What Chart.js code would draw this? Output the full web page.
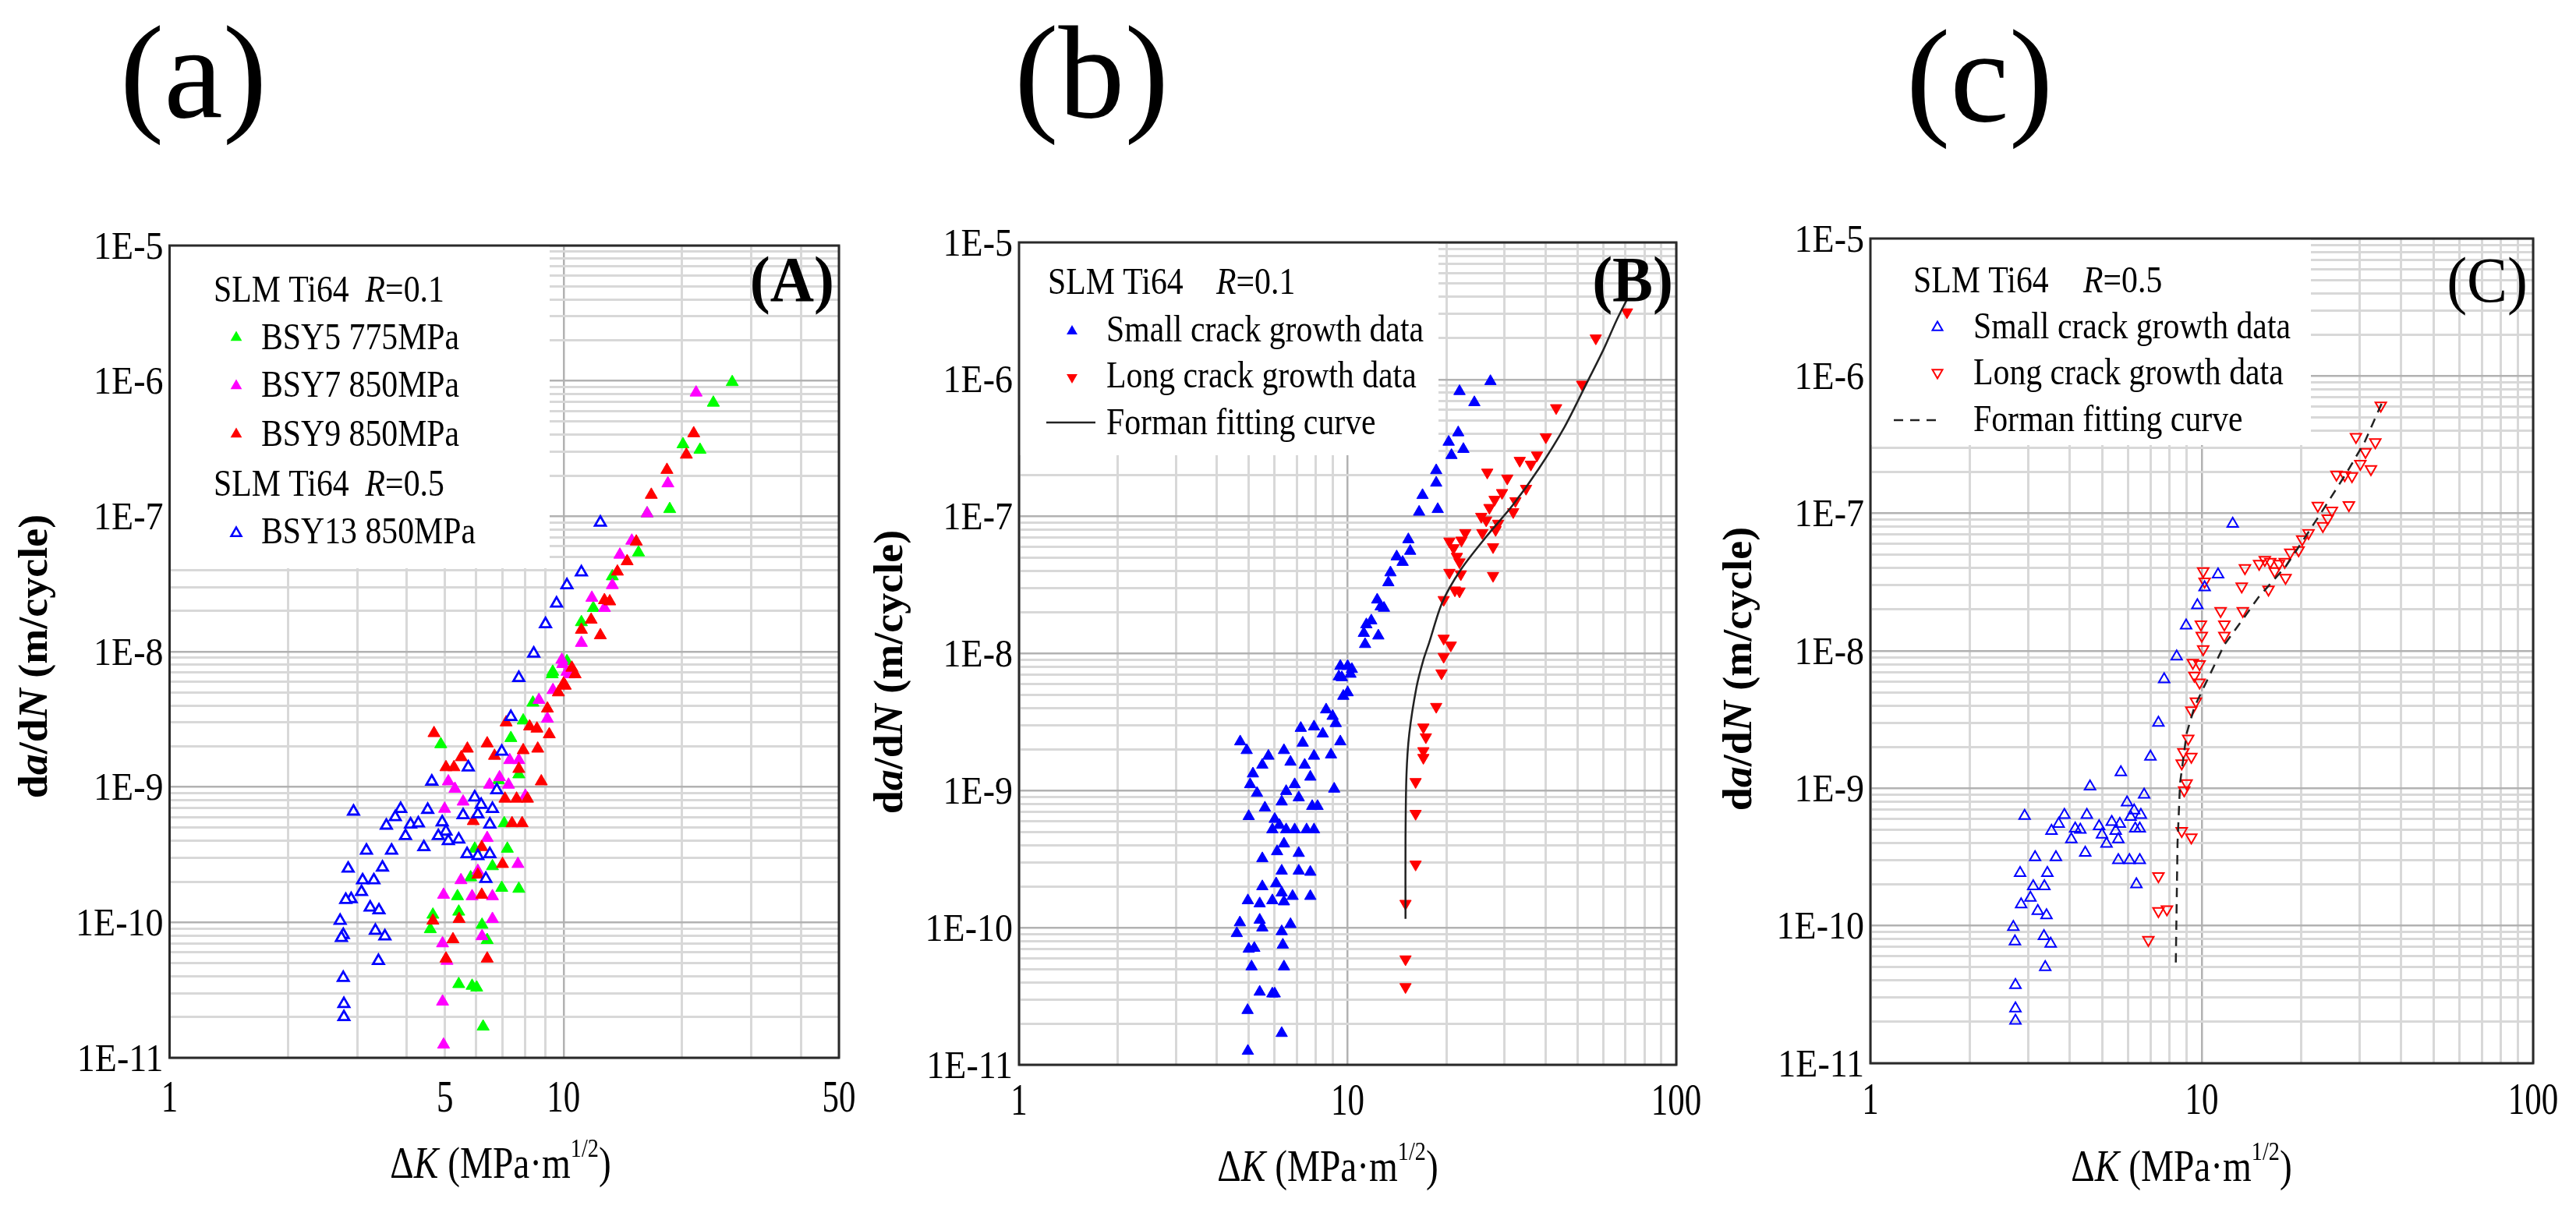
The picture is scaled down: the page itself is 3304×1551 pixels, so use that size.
<!DOCTYPE html>
<html>
<head>
<meta charset="utf-8">
<script src="https://cdn.jsdelivr.net/npm/chart.js@4.4.1/dist/chart.umd.min.js"></script>
<style>
  html, body { margin: 0; padding: 0; background: #fff; }
  #wrap { position: relative; width: 3304px; height: 1551px; overflow: hidden; }
  #wrap canvas { position: absolute; left: 0; top: 0; }
</style>
</head>
<body>
<div id="wrap">
  <canvas id="panelA" width="3304" height="1551"></canvas>
  <canvas id="panelB" width="3304" height="1551"></canvas>
  <canvas id="panelC" width="3304" height="1551"></canvas>
</div>
<script>
//-----------------------------------------
//  DATA
//-----------------------------------------

// shared y axis
const yTickValues = [1e-5, 1e-6, 1e-7, 1e-8, 1e-9, 1e-10, 1e-11];
const yTickLabels = ['1E-5', '1E-6', '1E-7', '1E-8', '1E-9', '1E-10', '1E-11'];

// panel (A)
const aTicksX = [1, 5, 10, 50];
const aBsy5K = [26.8, 24.0, 20.1, 22.2, 18.6, 16.3, 15.5, 13.3, 11.9, 11.1, 9.36, 10.2, 4.88, 7.35, 7.9, 8.36, 9.39, 7.7, 7.07, 7.2, 6.97, 7.7, 6.6, 5.95, 5.38, 5.42, 4.66, 4.59, 6.21, 6.4, 5.42, 5.86, 6.02, 6.25, 5.81, 6.84];
const aBsy5V = [9.8e-7, 6.9e-7, 3.4e-7, 3.1e-7, 1.13e-7, 1.05e-7, 5.4e-8, 3.6e-8, 2.1e-8, 1.65e-8, 6.8e-9, 8.5e-9, 2.07e-9, 2.3e-9, 3.1e-9, 4.2e-9, 7.1e-9, 1.24e-9, 5.4e-10, 3.5e-10, 1.8e-10, 1.77e-10, 2.6e-10, 3.5e-10, 1.56e-10, 1.2e-10, 1.14e-10, 8.9e-11, 9.6e-11, 7.4e-11, 3.5e-11, 3.4e-11, 3.3e-11, 1.7e-11, 2.15e-10, 1.12e-9];
const aBsy7K = [21.7, 18.4, 16.3, 14.9, 13.9, 13.3, 11.8, 12.7, 11.1, 9.95, 10.35, 5.1, 5.3, 4.99, 5.56, 6.49, 6.88, 7.25, 7.3, 7.7, 8.66, 9.4, 9.9, 10.2, 9.1, 8.0, 6.4, 6.06, 5.49, 4.96, 5.86, 6.6, 7.66, 6.6, 6.21, 4.93, 5.06, 4.93, 4.96, 5.7];
const aBsy7V = [8.2e-7, 1.75e-7, 1.05e-7, 6.6e-8, 5.2e-8, 3.1e-8, 2.5e-8, 2.1e-8, 1.16e-8, 8.1e-9, 6.8e-9, 1.1e-9, 9.7e-10, 6.9e-10, 7.8e-10, 1.04e-9, 1.18e-9, 1.04e-9, 1.58e-9, 1.58e-9, 4.4e-9, 5.2e-9, 8.7e-9, 7.1e-9, 3.2e-9, 8.6e-10, 4.2e-10, 2.4e-10, 2.05e-10, 1.6e-10, 1.56e-10, 1.56e-10, 2.7e-10, 1.06e-10, 7.9e-11, 7.0e-11, 5.2e-11, 2.6e-11, 1.25e-11, 3.2e-10];
const aBsy9K = [21.4, 20.5, 18.3, 16.7, 15.3, 14.5, 13.7, 13.1, 12.7, 11.75, 12.4, 11.1, 10.5, 10.7, 10.0, 4.69, 5.7, 5.5, 5.03, 5.27, 6.4, 6.68, 7.9, 8.6, 8.78, 9.2, 7.7, 7.15, 8.2, 8.56, 9.1, 9.7, 10.1, 7.1, 7.6, 8.1, 7.4, 7.85, 6.2, 6.06, 7.0, 6.2, 4.66, 5.43, 5.24, 5.03, 6.4, 5.9];
const aBsy9V = [4.1e-7, 2.85e-7, 2.2e-7, 1.44e-7, 6.5e-8, 4.65e-8, 3.9e-8, 2.35e-8, 2.4e-8, 1.72e-8, 1.32e-8, 1.45e-8, 7.6e-9, 6.8e-9, 5.8e-9, 2.5e-9, 1.92e-9, 1.66e-9, 1.4e-9, 1.4e-9, 2.1e-9, 1.7e-9, 1.87e-9, 1.92e-9, 1.1e-9, 2.45e-9, 1.36e-9, 3.0e-9, 2.8e-9, 2.7e-9, 3.8e-9, 5.0e-9, 5.6e-9, 8.2e-10, 8.2e-10, 8.2e-10, 5.4e-10, 5.4e-10, 3.6e-10, 2.25e-10, 2.7e-10, 1.6e-10, 1.03e-10, 1.06e-10, 7.5e-11, 5.4e-11, 5.4e-11, 5.6e-10];
const aBsy13K = [12.4, 11.1, 10.2, 9.6, 9.0, 8.4, 7.7, 2.93, 3.86, 4.52, 3.74, 3.55, 4.09, 4.28, 3.97, 4.63, 5.73, 6.97, 7.35, 6.77, 5.95, 6.18, 6.6, 6.06, 5.56, 6.5, 4.92, 5.03, 4.81, 5.1, 5.42, 4.42, 3.66, 3.16, 5.69, 6.06, 6.5, 2.84, 3.47, 3.09, 3.3, 6.35, 3.07, 2.89, 2.8, 3.23, 3.4, 2.71, 2.76, 2.73, 3.33, 3.52, 3.39, 2.76, 2.77, 2.77];
const aBsy13V = [9.0e-8, 3.86e-8, 3.1e-8, 2.27e-8, 1.6e-8, 9.7e-9, 6.4e-9, 6.6e-10, 6.9e-10, 6.8e-10, 6.0e-10, 5.2e-10, 5.3e-10, 5.4e-10, 4.35e-10, 1.1e-9, 1.4e-9, 1.83e-9, 3.3e-9, 9.5e-10, 8.4e-10, 7.4e-10, 6.9e-10, 6.3e-10, 6.2e-10, 5.3e-10, 5.5e-10, 4.7e-10, 4.35e-10, 4.0e-10, 4.1e-10, 3.6e-10, 3.4e-10, 3.4e-10, 3.2e-10, 3.1e-10, 3.2e-10, 2.5e-10, 2.55e-10, 2.05e-10, 2.05e-10, 2.1e-10, 1.68e-10, 1.49e-10, 1.47e-10, 1.29e-10, 1.23e-10, 1.03e-10, 8.1e-11, 7.7e-11, 8.7e-11, 7.9e-11, 5.2e-11, 3.9e-11, 2.5e-11, 2.0e-11];

// panel (B)
const bTicksX = [1, 10, 100];
const bSmallK = [4.71, 4.93, 5.74, 5.5, 5.15, 5.05, 5.3, 5.0, 5.6, 6.4, 6.7, 7.2, 7.3, 7.9, 8.4, 7.9, 7.4, 7.7, 8.9, 9.5, 9.1, 6.5, 6.9, 7.1, 6.3, 7.8, 8.1, 6.0, 6.2, 5.9, 6.5, 6.9, 7.5, 7.9, 6.4, 6.1, 5.5, 7.1, 7.1, 7.7, 6.3, 5.5, 6.06, 6.3, 6.8, 7.7, 5.9, 6.4, 4.97, 5.4, 4.7, 4.6, 5.4, 5.5, 6.7, 6.3, 6.35, 5.2, 5.0, 5.1, 6.4, 5.4, 5.9, 6.0, 4.96, 6.3, 4.97,
  9.4, 9.5, 10.0, 10.2, 9.7, 10.0, 8.6, 9.0, 9.2, 11.8,
  27.2, 21.9, 24.3, 21.7, 20.3, 22.5, 20.7, 18.6, 18.6, 16.9, 16.5, 18.8, 15.3, 15.5, 14.1, 14.7, 13.5, 13.3, 12.3, 12.6, 12.9, 11.4, 11.2, 12.4, 11.3, 10.3, 9.6];
const bSmallV = [2.28e-9, 1.97e-9, 1.79e-9, 1.54e-9, 1.33e-9, 1.11e-9, 9.6e-10, 6.5e-10, 7.5e-10, 1.97e-9, 1.62e-9, 2.86e-9, 2.23e-9, 2.93e-9, 2.6e-9, 1.79e-9, 1.54e-9, 1.26e-9, 1.83e-9, 2.28e-9, 1.03e-9, 9.9e-10, 1.11e-9, 8.9e-10, 8.3e-10, 7.7e-10, 7.7e-10, 6.2e-10, 5.6e-10, 5.2e-10, 5.2e-10, 5.2e-10, 5.2e-10, 5.2e-10, 4.1e-10, 3.6e-10, 3.2e-10, 3.5e-10, 2.6e-10, 2.55e-10, 2.6e-10, 2.0e-10, 2.1e-10, 1.8e-10, 1.7e-10, 1.7e-10, 1.58e-10, 1.55e-10, 1.58e-10, 1.5e-10, 1.09e-10, 9.1e-11, 1.14e-10, 1.0e-10, 1.06e-10, 9.4e-11, 7.5e-11, 7.1e-11, 7.0e-11, 5.2e-11, 5.2e-11, 3.4e-11, 3.3e-11, 3.3e-11, 2.5e-11, 1.7e-11, 1.26e-11,
  6.8e-9, 8.1e-9, 8.1e-9, 7.1e-9, 4.9e-9, 5.2e-9, 3.9e-9, 3.5e-9, 3.1e-9, 1.74e-8,
  9.7e-7, 8.2e-7, 6.8e-7, 4.1e-7, 3.5e-7, 3.1e-7, 2.8e-7, 2.17e-7, 1.76e-7, 1.43e-7, 1.08e-7, 1.13e-7, 6.8e-8, 5.6e-8, 5.1e-8, 4.65e-8, 3.9e-8, 3.3e-8, 2.47e-8, 2.2e-8, 2.15e-8, 1.63e-8, 1.41e-8, 1.35e-8, 1.17e-8, 7.7e-9, 6.7e-9];
const bLongK = [70.8, 56.9, 51.7, 43.1, 40.1, 37.7, 33.4, 36.1, 26.6, 30.6, 34.9, 29.5, 28.0, 32.4, 27.0, 31.9, 25.5, 26.4, 28.7, 25.7, 28.2, 22.8, 20.4, 22.2, 27.7, 21.0, 21.5, 21.9, 20.4, 22.1, 27.7, 21.2, 21.9, 19.6, 19.6, 20.6, 19.6, 19.3, 18.6, 17.0, 17.3, 17.0, 17.0, 16.1, 16.1, 16.1, 15.0, 15.0, 15.0];
const bLongV = [3.1e-6, 2.0e-6, 9.2e-7, 6.2e-7, 3.8e-7, 2.8e-7, 2.56e-7, 2.4e-7, 2.1e-7, 1.9e-7, 1.6e-7, 1.49e-7, 1.33e-7, 1.3e-7, 1.16e-7, 1.08e-7, 1.0e-7, 9.4e-8, 8.9e-8, 7.6e-8, 8.0e-8, 7.6e-8, 6.6e-8, 6.7e-8, 6.0e-8, 5.9e-8, 5.1e-8, 4.65e-8, 3.9e-8, 3.8e-8, 3.7e-8, 2.9e-8, 2.85e-8, 2.47e-8, 1.29e-8, 1.15e-8, 9.5e-9, 7.2e-9, 4.1e-9, 2.9e-9, 2.46e-9, 1.95e-9, 1.74e-9, 1.16e-9, 6.8e-10, 2.9e-10, 1.5e-10, 5.9e-11, 3.7e-11];
const bFitK = [15.0, 15.0, 15.1, 15.4, 16.2, 17.0, 17.7, 19.4, 22.1, 26.5, 31.8, 38.1, 45.7, 52.9, 60.1, 65.8, 70.8];
const bFitV = [1.16e-10, 4.5e-10, 1.3e-9, 2.6e-9, 5.7e-9, 9.0e-9, 1.2e-8, 2.36e-8, 4.1e-8, 7.2e-8, 1.21e-7, 2.22e-7, 4.5e-7, 9.0e-7, 1.66e-6, 2.7e-6, 3.84e-6];

// panel (C)
const cTicksX = [1, 10, 100];
const cSmallK = [12.4, 11.2, 10.2, 9.7, 8.97, 8.4, 7.7, 7.4, 7.0, 5.7, 4.6, 6.7, 2.92, 3.85, 4.5, 5.95, 6.25, 6.55, 3.7, 3.52, 4.15, 4.3, 4.9, 5.35, 5.66, 6.1, 6.3, 6.5, 4.04, 5.0, 5.16, 5.5, 5.6, 3.14, 3.63, 4.45, 5.6, 6.05, 6.5, 2.83, 3.42, 3.1, 3.35, 6.35, 3.04, 2.85, 3.2, 3.4, 2.7, 2.73, 3.34, 3.5, 3.37, 2.74, 2.74, 2.74];
const cSmallV = [8.4e-8, 3.6e-8, 2.9e-8, 2.15e-8, 1.53e-8, 9.1e-9, 6.2e-9, 3.0e-9, 1.7e-9, 1.31e-9, 1.03e-9, 9.0e-10, 6.3e-10, 6.4e-10, 6.4e-10, 7.9e-10, 6.9e-10, 6.4e-10, 5.5e-10, 4.9e-10, 5.1e-10, 5.0e-10, 5.3e-10, 5.7e-10, 5.5e-10, 6.2e-10, 5.1e-10, 5.1e-10, 4.26e-10, 4.6e-10, 3.95e-10, 4.9e-10, 4.26e-10, 3.15e-10, 3.15e-10, 3.4e-10, 3.0e-10, 3.0e-10, 3.0e-10, 2.42e-10, 2.42e-10, 1.94e-10, 1.94e-10, 2.0e-10, 1.6e-10, 1.43e-10, 1.28e-10, 1.19e-10, 9.8e-11, 7.7e-11, 8.4e-11, 7.4e-11, 5.0e-11, 3.7e-11, 2.5e-11, 2.04e-11];
const cLongK = [34.7, 29.2, 33.4, 31.2, 30.1, 32.4, 25.5, 27.0, 28.4, 27.8, 22.4, 24.7, 24.0, 23.2, 21.0, 20.1, 19.6, 18.5, 17.8, 17.1, 16.1, 15.5, 14.9, 16.6, 17.9, 13.5, 13.2, 15.9, 13.3, 11.4, 11.7, 11.7, 10.1, 10.2, 9.94, 10.0, 10.1, 9.4, 9.85, 9.5, 9.85, 9.6, 9.3, 9.1, 8.8, 9.3, 8.7, 9.0, 8.85, 8.7, 9.3, 7.4, 7.4, 7.85, 6.9];
const cLongV = [6.1e-7, 3.6e-7, 3.3e-7, 2.8e-7, 2.3e-7, 2.1e-7, 1.92e-7, 1.9e-7, 1.87e-7, 1.15e-7, 1.14e-7, 1.05e-7, 9.2e-8, 8.1e-8, 7.2e-8, 6.5e-8, 5.4e-8, 5.2e-8, 4.45e-8, 4.3e-8, 4.45e-8, 4.6e-8, 4.3e-8, 3.8e-8, 3.4e-8, 4.0e-8, 2.95e-8, 2.8e-8, 1.95e-8, 1.95e-8, 1.56e-8, 1.29e-8, 3.8e-8, 3.2e-8, 1.56e-8, 1.29e-8, 1.03e-8, 8.2e-9, 8.0e-9, 6.6e-9, 5.9e-9, 4.3e-9, 3.7e-9, 2.3e-9, 1.84e-9, 1.7e-9, 1.52e-9, 1.09e-9, 9.7e-10, 4.9e-10, 4.4e-10, 2.3e-10, 1.28e-10, 1.32e-10, 7.9e-11];
const cFitK = [8.35, 8.45, 8.6, 9.0, 9.5, 10.2, 11.7, 13.4, 14.8, 17.9, 20.5, 23.5, 27.3, 31.0, 35.0];
const cFitV = [5.4e-11, 4.0e-10, 1.09e-9, 2.5e-9, 3.9e-9, 5.6e-9, 1.11e-8, 1.74e-8, 2.44e-8, 4.1e-8, 6.7e-8, 1.11e-7, 1.96e-7, 3.3e-7, 6.4e-7];

//-----------------------------------------
//  HELPERS
//-----------------------------------------

const SERIF = '"Liberation Serif", "Times New Roman", Times, serif';
const f = (size, style) => (style || 'normal') + ' ' + size + 'px ' + SERIF;
const pts = (ks, vs) => ks.map((k, i) => ({ x: k, y: vs[i] }));

const BLUE = '#0000ff', RED = '#ff0000', GREEN = '#00ff00', MAGENTA = '#ff00ff';

// the original figure is squeezed sideways, so text is drawn with a horizontal scale
function drawRuns(ctx, runs, x, y, opt) {
    opt = opt || {};
    const squeeze = opt.squeeze || 0.87;
    ctx.save();
    ctx.translate(x, y);
    if (opt.rotate) { ctx.rotate(-Math.PI / 2); ctx.scale(1, squeeze); }
    else ctx.scale(squeeze, 1);
    let total = 0;
    runs.forEach(r => { ctx.font = r.font; r.w = ctx.measureText(r.text).width; total += r.w; });
    let cx = opt.align === 'center' ? -total / 2 : (opt.align === 'right' ? -total : 0);
    ctx.fillStyle = '#000';
    ctx.textAlign = 'left';
    ctx.textBaseline = 'alphabetic';
    runs.forEach(r => { ctx.font = r.font; ctx.fillText(r.text, cx, r.dy || 0); cx += r.w; });
    ctx.restore();
}

function triangle(ctx, x, y, r, down, fill, stroke, lw) {
    const s = down ? -1 : 1;
    ctx.save();
    ctx.beginPath();
    for (let i = 0; i < 3; i++) {
        const a = i * 2 * Math.PI / 3;
        const px = x + Math.sin(a) * r, py = y - s * Math.cos(a) * r;
        if (i) ctx.lineTo(px, py); else ctx.moveTo(px, py);
    }
    ctx.closePath();
    if (fill) { ctx.fillStyle = fill; ctx.fill(); }
    if (stroke) { ctx.lineWidth = lw; ctx.strokeStyle = stroke; ctx.stroke(); }
    ctx.restore();
}

function legendLine(ctx, x1, x2, y, dash) {
    ctx.save();
    ctx.strokeStyle = '#222';
    ctx.lineWidth = 2.5;
    ctx.setLineDash(dash || []);
    ctx.beginPath(); ctx.moveTo(x1, y); ctx.lineTo(x2, y); ctx.stroke();
    ctx.restore();
}

const isDecade = v => Math.abs(Math.log10(v) - Math.round(Math.log10(v))) < 1e-6;

function logGrid(min, max) {
    const out = [];
    for (let e = Math.floor(Math.log10(min)); e <= Math.ceil(Math.log10(max)); e++) {
        for (let m = 1; m <= 9; m++) {
            const v = m * Math.pow(10, e);
            if (v >= min * 0.999 && v <= max * 1.001) out.push(v);
        }
    }
    return out;
}

function logAxis(min, max, isX) {
    return {
        type: 'logarithmic',
        min: min, max: max,
        afterBuildTicks: s => { s.ticks = logGrid(min, max).map(v => ({ value: v })); },
        afterFit: s => { if (isX) s.height = 0; else s.width = 0; },
        ticks: { display: false },
        border: { display: false },
        grid: {
            drawTicks: false,
            color: c => (c.tick && isDecade(c.tick.value)) ? '#b2b2b2' : '#d8d8d8',
            lineWidth: c => (c.tick && isDecade(c.tick.value)) ? 2.5 : 3
        }
    };
}

const xTitle = () => [
    { text: '\u0394', font: f(57) },
    { text: 'K', font: f(57, 'italic') },
    { text: ' (MPa\u00b7m', font: f(57) },
    { text: '1/2', font: f(34), dy: -27 },
    { text: ')', font: f(57) }
];
const yTitle = () => [
    { text: 'd', font: f(54, 'bold') },
    { text: 'a', font: f(54, 'italic bold') },
    { text: '/d', font: f(54, 'bold') },
    { text: 'N', font: f(54, 'italic bold') },
    { text: ' (m/cycle)', font: f(54, 'bold') }
];

//-----------------------------------------
//  PANEL LAYOUT
//-----------------------------------------

const panels = {
    panelA: {
        area: [217.5, 315, 1076, 1357], xmax: 50, xTicks: aTicksX,
        white: [705, 729],
        xLabelBase: 1426, xTitleX: 642, xTitleBase: 1511,
        yTitleX: 60, yTitleY: 842,
        letter: ['(a)', 248, 150], tag: ['(A)', 1070, 386, 'bold'],
        legend: ctx => {
            drawRuns(ctx, [{ text: 'SLM Ti64  ', font: f(48) }, { text: 'R', font: f(48, 'italic') }, { text: '=0.1', font: f(48) }], 274, 387);
            triangle(ctx, 303, 433, 8.5, false, GREEN);
            drawRuns(ctx, [{ text: 'BSY5 775MPa', font: f(48) }], 335, 448);
            triangle(ctx, 303, 495, 8.5, false, MAGENTA);
            drawRuns(ctx, [{ text: 'BSY7 850MPa', font: f(48) }], 335, 509);
            triangle(ctx, 303, 557, 8.5, false, RED);
            drawRuns(ctx, [{ text: 'BSY9 850MPa', font: f(48) }], 335, 572);
            drawRuns(ctx, [{ text: 'SLM Ti64  ', font: f(48) }, { text: 'R', font: f(48, 'italic') }, { text: '=0.5', font: f(48) }], 274, 636);
            triangle(ctx, 303, 684, 7.5, false, null, BLUE, 2.5);
            drawRuns(ctx, [{ text: 'BSY13 850MPa', font: f(48) }], 335, 697);
        }
    },
    panelB: {
        area: [1307, 311, 2150, 1366], xmax: 100, xTicks: bTicksX,
        white: [1845, 584],
        xLabelBase: 1430, xTitleX: 1703, xTitleBase: 1515,
        yTitleX: 1157, yTitleY: 862,
        letter: ['(b)', 1400, 150], tag: ['(B)', 2146, 386, 'bold'],
        legend: ctx => {
            drawRuns(ctx, [{ text: 'SLM Ti64', font: f(48) }], 1344, 377);
            drawRuns(ctx, [{ text: 'R', font: f(48, 'italic') }, { text: '=0.1', font: f(48) }], 1560, 377);
            triangle(ctx, 1375, 425, 8, false, BLUE);
            drawRuns(ctx, [{ text: 'Small crack growth data', font: f(48) }], 1419, 438);
            triangle(ctx, 1375, 484, 8, true, RED);
            drawRuns(ctx, [{ text: 'Long crack growth data', font: f(48) }], 1419, 497);
            legendLine(ctx, 1342, 1405, 542);
            drawRuns(ctx, [{ text: 'Forman fitting curve', font: f(48) }], 1419, 557);
        }
    },
    panelC: {
        area: [2399, 306, 3249, 1364], xmax: 100, xTicks: cTicksX,
        white: [2964, 571],
        xLabelBase: 1429, xTitleX: 2798, xTitleBase: 1515,
        yTitleX: 2246, yTitleY: 858,
        letter: ['(c)', 2539, 155], tag: ['(C)', 3242, 387, 'normal'],
        legend: ctx => {
            drawRuns(ctx, [{ text: 'SLM Ti64', font: f(48) }], 2454, 375);
            drawRuns(ctx, [{ text: 'R', font: f(48, 'italic') }, { text: '=0.5', font: f(48) }], 2672, 375);
            triangle(ctx, 2485, 420, 7.5, false, null, BLUE, 2);
            drawRuns(ctx, [{ text: 'Small crack growth data', font: f(48) }], 2531, 434);
            triangle(ctx, 2485, 478, 7.5, true, null, RED, 2);
            drawRuns(ctx, [{ text: 'Long crack growth data', font: f(48) }], 2531, 493);
            legendLine(ctx, 2429, 2489, 539, [12, 9]);
            drawRuns(ctx, [{ text: 'Forman fitting curve', font: f(48) }], 2531, 553);
        }
    }
};

//-----------------------------------------
//  PLUGIN: legend box, frame and all texts
//-----------------------------------------

const figurePlugin = {
    id: 'figure',
    beforeDatasetsDraw(chart) {
        const p = panels[chart.canvas.id];
        const a = chart.chartArea, ctx = chart.ctx;
        ctx.save();
        ctx.fillStyle = '#fff';
        ctx.fillRect(a.left + 1, a.top + 1, p.white[0] - a.left - 1, p.white[1] - a.top - 1);
        ctx.restore();
    },
    afterDraw(chart) {
        const p = panels[chart.canvas.id];
        const a = chart.chartArea, ctx = chart.ctx;
        const xs = chart.scales.x, ys = chart.scales.y;

        ctx.save();
        ctx.strokeStyle = '#2a2a2a';
        ctx.lineWidth = 3;
        ctx.strokeRect(a.left, a.top, a.right - a.left, a.bottom - a.top);
        ctx.restore();

        yTickValues.forEach((v, i) => {
            drawRuns(ctx, [{ text: yTickLabels[i], font: f(50) }], a.left - 8, ys.getPixelForValue(v) + 16.5, { align: 'right', squeeze: 0.92 });
        });
        p.xTicks.forEach(v => {
            drawRuns(ctx, [{ text: String(v), font: f(58) }], xs.getPixelForValue(v), p.xLabelBase, { align: 'center', squeeze: 0.74 });
        });

        drawRuns(ctx, xTitle(), p.xTitleX, p.xTitleBase, { align: 'center', squeeze: 0.83 });
        drawRuns(ctx, yTitle(), p.yTitleX, p.yTitleY, { align: 'center', rotate: true, squeeze: 0.98 });

        drawRuns(ctx, [{ text: p.letter[0], font: f(170) }], p.letter[1], p.letter[2], { align: 'center', squeeze: 1 });
        drawRuns(ctx, [{ text: p.tag[0], font: f(82, p.tag[3]) }], p.tag[1], p.tag[2], { align: 'right', squeeze: 0.95 });

        p.legend(ctx);
    }
};

function baseOptions(id) {
    const p = panels[id];
    return {
        responsive: false,
        animation: false,
        devicePixelRatio: 1,
        events: [],
        layout: { padding: { left: p.area[0], top: p.area[1], right: 3304 - p.area[2], bottom: 1551 - p.area[3] } },
        plugins: { legend: { display: false }, tooltip: { enabled: false } },
        scales: {
            x: logAxis(1, p.xmax, true),
            y: logAxis(1e-11, 1e-5, false)
        }
    };
}

function markers(label, data, color, opts) {
    return Object.assign({
        label: label,
        data: data,
        pointStyle: 'triangle',
        pointRadius: 9,
        borderWidth: 1,
        borderColor: color,
        backgroundColor: color
    }, opts || {});
}

//-----------------------------------------
//  CHARTS
//-----------------------------------------

new Chart(document.getElementById('panelA'), {
    type: 'scatter',
    data: {
        datasets: [
            markers('BSY13 850MPa', pts(aBsy13K, aBsy13V), BLUE, { backgroundColor: '#ffffff', pointRadius: 8, borderWidth: 2.8, order: 0 }),
            markers('BSY9 850MPa', pts(aBsy9K, aBsy9V), RED, { order: 1 }),
            markers('BSY7 850MPa', pts(aBsy7K, aBsy7V), MAGENTA, { order: 2 }),
            markers('BSY5 775MPa', pts(aBsy5K, aBsy5V), GREEN, { order: 3 })
        ]
    },
    options: baseOptions('panelA'),
    plugins: [figurePlugin]
});

new Chart(document.getElementById('panelB'), {
    type: 'scatter',
    data: {
        datasets: [
            { label: 'Forman fitting curve', data: pts(bFitK, bFitV), showLine: true, pointRadius: 0,
              borderColor: '#222', borderWidth: 2.5, tension: 0.3, fill: false, order: 0 },
            markers('Small crack growth data', pts(bSmallK, bSmallV), BLUE, { pointRadius: 8.5, order: 1 }),
            markers('Long crack growth data', pts(bLongK, bLongV), RED, { pointRadius: 8.5, pointRotation: 180, order: 2 })
        ]
    },
    options: baseOptions('panelB'),
    plugins: [figurePlugin]
});

new Chart(document.getElementById('panelC'), {
    type: 'scatter',
    data: {
        datasets: [
            { label: 'Forman fitting curve', data: pts(cFitK, cFitV), showLine: true, pointRadius: 0,
              borderColor: '#222', borderWidth: 2.5, borderDash: [12, 9], tension: 0, fill: false, order: 0 },
            markers('Small crack growth data', pts(cSmallK, cSmallV), BLUE, { backgroundColor: 'rgba(0,0,0,0)', pointRadius: 8, borderWidth: 2, order: 1 }),
            markers('Long crack growth data', pts(cLongK, cLongV), RED, { backgroundColor: 'rgba(0,0,0,0)', pointRadius: 8, borderWidth: 2, pointRotation: 180, order: 2 })
        ]
    },
    options: baseOptions('panelC'),
    plugins: [figurePlugin]
});
</script>
</body>
</html>
